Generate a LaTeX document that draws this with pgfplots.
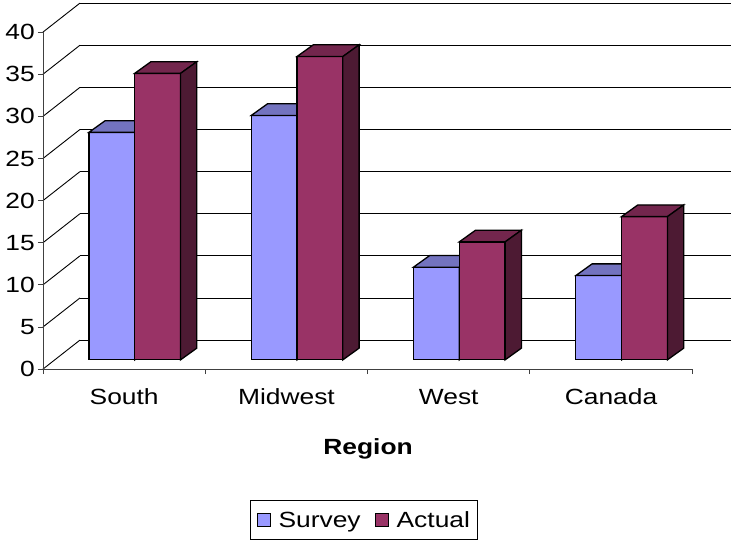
\documentclass[border=0pt]{standalone}
\usepackage{fontspec}
\setmainfont[FakeStretch=1.2]{Liberation Sans}
\usepackage{pgfplots}
\usepackage{pgfplotstable}
\pgfplotsset{compat=1.18}
\definecolor{sF}{HTML}{9999FF}
\definecolor{sT}{HTML}{7373BF}
\definecolor{sS}{HTML}{4D4D80}
\definecolor{aF}{HTML}{993366}
\definecolor{aT}{HTML}{73264D}
\definecolor{aS}{HTML}{4D1A33}
\newcommand\fs{\fontsize{22bp}{26bp}\selectfont}
% bar drawn as a mark at (left edge, value); its base sits 1.10 units (9.27bp) above the floor
\newcommand\cubemark[3]{%
  \pgfsetlinewidth{1.3bp}\pgfsetstrokecolor{black}\pgfsetmiterjoin
  \pgfmathsetlengthmacro\hh{\barval*8.43bp}%
  \pgftransformyshift{9.27bp}%
  \pgfsetfillcolor{#1}%
  \pgfpathmoveto{\pgfpoint{0bp}{0bp}}%
  \pgfpathlineto{\pgfpoint{45.9bp}{0bp}}%
  \pgfpathlineto{\pgfpoint{45.9bp}{-\hh}}%
  \pgfpathlineto{\pgfpoint{0bp}{-\hh}}%
  \pgfpathclose\pgfusepath{fill,stroke}%
  \pgfsetfillcolor{#2}%
  \pgfpathmoveto{\pgfpoint{0bp}{0bp}}%
  \pgfpathlineto{\pgfpoint{45.9bp}{0bp}}%
  \pgfpathlineto{\pgfpoint{62.2bp}{11.7bp}}%
  \pgfpathlineto{\pgfpoint{16.3bp}{11.7bp}}%
  \pgfpathclose\pgfusepath{fill,stroke}%
  \pgfsetfillcolor{#3}%
  \pgfpathmoveto{\pgfpoint{45.9bp}{0bp}}%
  \pgfpathlineto{\pgfpoint{62.2bp}{11.7bp}}%
  \pgfpathlineto{\pgfpoint{62.2bp}{11.7bp-\hh}}%
  \pgfpathlineto{\pgfpoint{45.9bp}{-\hh}}%
  \pgfpathclose\pgfusepath{fill,stroke}%
}
\pgfdeclareplotmark{cubeS}{\cubemark{sF}{sT}{sS}}
\pgfdeclareplotmark{cubeA}{\cubemark{aF}{aT}{aS}}

\pgfplotstableread{
pos survey actual
0 27 34
1 29 36
2 11 14
3 10 17
}\datatable

\begin{document}
\begin{tikzpicture}
\begin{axis}[
  x=162.4bp, y=8.43bp,
  xmin=0, xmax=4.2365, ymin=0, ymax=43.81,
  clip=false,
  axis x line*=bottom, axis y line*=left,
  axis line style={draw=none},
  tick align=outside,
  major tick length=5bp,
  tick style={black!75, line width=0.8bp},
  ytick={0,5,...,40},
  xtick={0,1,2,3,4}, xticklabels={},
  extra x ticks={0.5,1.5,2.5,3.5},
  extra x tick labels={South,Midwest,West,Canada},
  extra x tick style={major tick length=0pt},
  /pgf/number format/assume math mode=true,
  ticklabel style={font=\fs},
  yticklabel style={anchor=east, inner sep=0pt, xshift=-3bp},
  xticklabel style={anchor=base, inner sep=0pt, yshift=-35bp},
  xlabel={\bfseries Region},
  xlabel style={font=\fs, at={(axis description cs:0.4728,-0.2320)}, anchor=base},
  legend columns=2,
  legend style={font=\fs, draw=black, line width=1bp,
    at={(axis description cs:0.4673,-0.4094)}, anchor=center,
    inner xsep=6bp, inner ysep=9bp,
    /tikz/every odd column/.append style={column sep=6bp},
    /tikz/every even column/.append style={column sep=12bp}},
]
% bounding box of the whole picture
\path (axis cs:-0.2648,-20.84) (axis cs:4.2365,43.81);
% back wall grid
\draw[black, line width=0.9bp] (axis cs:0.2278,3.44) -- (axis cs:4.2365,3.44);
\draw[black, line width=0.9bp] (axis cs:0.2278,8.44) -- (axis cs:4.2365,8.44);
\draw[black, line width=0.9bp] (axis cs:0.2278,13.44) -- (axis cs:4.2365,13.44);
\draw[black, line width=0.9bp] (axis cs:0.2278,18.44) -- (axis cs:4.2365,18.44);
\draw[black, line width=0.9bp] (axis cs:0.2278,23.44) -- (axis cs:4.2365,23.44);
\draw[black, line width=0.9bp] (axis cs:0.2278,28.44) -- (axis cs:4.2365,28.44);
\draw[black, line width=0.9bp] (axis cs:0.2278,33.44) -- (axis cs:4.2365,33.44);
\draw[black, line width=0.9bp] (axis cs:0.2278,38.44) -- (axis cs:4.2365,38.44);
\draw[black, line width=0.9bp] (axis cs:0.2278,43.44) -- (axis cs:4.2365,43.44);
% side wall diagonals
\draw[black, line width=0.9bp] (axis cs:0,0) -- (axis cs:0.2278,3.44);
\draw[black, line width=0.9bp] (axis cs:0,5) -- (axis cs:0.2278,8.44);
\draw[black, line width=0.9bp] (axis cs:0,10) -- (axis cs:0.2278,13.44);
\draw[black, line width=0.9bp] (axis cs:0,15) -- (axis cs:0.2278,18.44);
\draw[black, line width=0.9bp] (axis cs:0,20) -- (axis cs:0.2278,23.44);
\draw[black, line width=0.9bp] (axis cs:0,25) -- (axis cs:0.2278,28.44);
\draw[black, line width=0.9bp] (axis cs:0,30) -- (axis cs:0.2278,33.44);
\draw[black, line width=0.9bp] (axis cs:0,35) -- (axis cs:0.2278,38.44);
\draw[black, line width=0.9bp] (axis cs:0,40) -- (axis cs:0.2278,43.44);
% front axis lines
\draw[black!75, line width=0.9bp] (axis cs:0,0) -- (axis cs:0,40);
\draw[black!75, line width=0.9bp] (axis cs:0,0) -- (axis cs:4,0);

\addplot[forget plot, only marks, mark=cubeS,
  visualization depends on={rawy \as \barval}]
  table[x expr=\thisrow{pos}+0.283, y=survey] {\datatable};
\addplot[forget plot, only marks, mark=cubeA,
  visualization depends on={rawy \as \barval}]
  table[x expr=\thisrow{pos}+0.565, y=actual] {\datatable};

\addlegendimage{legend image code/.code={\draw[black, fill=sF, line width=1bp] (0bp,-6.5bp) rectangle (13bp,6.5bp);}}
\addlegendentry{Survey}
\addlegendimage{legend image code/.code={\draw[black, fill=aF, line width=1bp] (0bp,-6.5bp) rectangle (13bp,6.5bp);}}
\addlegendentry{Actual}
\end{axis}
\end{tikzpicture}
\end{document}
